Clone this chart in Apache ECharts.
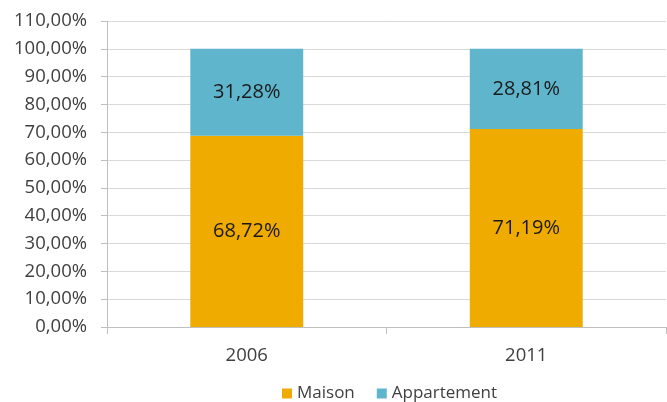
<!DOCTYPE html>
<html>
<head>
<meta charset="utf-8">
<script src="https://cdn.jsdelivr.net/npm/echarts@6/dist/echarts.min.js"></script>
<style>
  html, body { margin: 0; padding: 0; background: #fff; }
  #chart { width: 667px; height: 402px; }
</style>
</head>
<body>
<div id="chart"></div>
<script>
// Housing types by year (share of dwellings, %)
const years = ['2006', '2011'];
const maison = [68.72, 71.19];
const appartement = [31.28, 28.81];
const seriesNames = ['Maison', 'Appartement'];

const fmt = v => v.toFixed(2).replace('.', ',') + '%';
const FONT = 'Open Sans';

const chart = echarts.init(document.getElementById('chart'));
chart.setOption({
  animation: false,
  textStyle: { fontFamily: FONT },
  grid: { left: 107, right: 1, top: 21, bottom: 75, containLabel: false },
  legend: {
    top: 385,
    left: 282,
    padding: [0, 0, 0, 0],
    itemWidth: 10,
    itemHeight: 10,
    itemGap: 22,
    icon: 'rect',
    textStyle: { fontFamily: FONT, fontSize: 17, color: '#404040' },
    data: seriesNames
  },
  xAxis: {
    type: 'category',
    data: years,
    axisLine: { lineStyle: { color: '#bfbfbf', width: 1 } },
    axisTick: { show: true, length: 7, alignWithLabel: false, lineStyle: { color: '#bfbfbf' } },
    axisLabel: { fontFamily: FONT, fontSize: 18.5, color: '#404040', margin: 19 }
  },
  yAxis: {
    type: 'value',
    min: 0,
    max: 110,
    interval: 10,
    axisLine: { show: true, lineStyle: { color: '#bfbfbf' } },
    axisTick: { show: true, length: 6, lineStyle: { color: '#bfbfbf' } },
    splitLine: { lineStyle: { color: '#d9d9d9' } },
    axisLabel: { fontFamily: FONT, fontSize: 18.5, color: '#404040', margin: 20, formatter: v => fmt(v) }
  },
  series: [
    {
      name: seriesNames[0],
      type: 'bar',
      stack: 'total',
      data: maison,
      barWidth: '40.4%',
      itemStyle: { color: '#f0ab00' },
      label: { show: true, position: 'inside', fontFamily: FONT, fontSize: 20, color: '#1a1a1a', formatter: p => fmt(p.value) }
    },
    {
      name: seriesNames[1],
      type: 'bar',
      stack: 'total',
      data: appartement,
      barWidth: '40.4%',
      itemStyle: { color: '#5fb5cc' },
      label: { show: true, position: 'inside', fontFamily: FONT, fontSize: 20, color: '#1a1a1a', formatter: p => fmt(p.value) }
    }
  ]
});
</script>
</body>
</html>
